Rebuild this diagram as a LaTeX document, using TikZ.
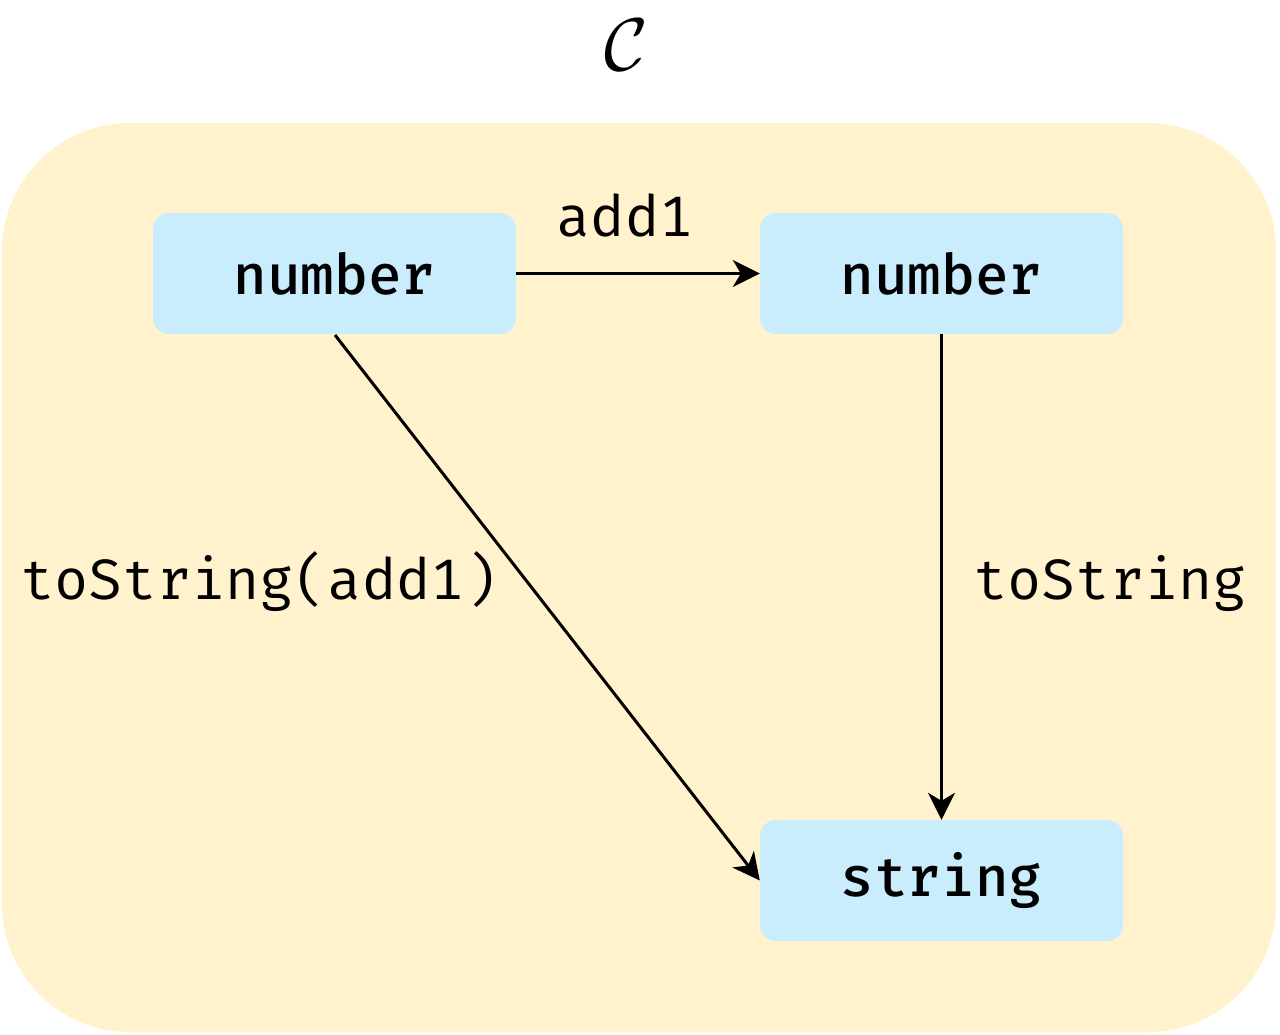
\documentclass[tikz,border=0pt]{standalone}
\usepackage{fontspec}
\setmonofont{Fira Mono}
\usetikzlibrary{arrows.meta}
\definecolor{bgyellow}{HTML}{FFF2CC}
\definecolor{boxblue}{HTML}{C9EDFC}
\begin{document}
\begin{tikzpicture}[x=1pt,y=-1pt,
  typebox/.style={fill=boxblue, rounded corners=16pt, minimum width=363pt, minimum height=121pt, inner sep=0pt, font=\fontsize{56}{60}\selectfont\ttfamily\bfseries},
  lbl/.style={font=\fontsize{57}{60}\selectfont\ttfamily, inner sep=0pt},
  arr/.style={draw=black, line width=3pt, -{Stealth[length=27pt,width=27pt,inset=8pt]}}]
\useasboundingbox (0,0) rectangle (1280,1034);
\fill[bgyellow, rounded corners=128pt] (2,123) rectangle (1276,1032);
\node[scale=3, inner sep=0pt] (title) at (626,45) {\fontsize{24}{28}\selectfont$\mathcal{C}$};
\node[typebox] (n1) at (334.5,273.5) {number};
\node[typebox] (n2) at (941.5,273.5) {number};
\node[typebox] (s) at (941.5,880.5) {string};
\coordinate (d0) at (335,335);
\draw[arr] (n1.east) -- (n2.west);
\draw[arr] (n2.south) -- (s.north);
\draw[arr] (d0) -- (s.west);
\node[lbl, anchor=base] (l1) at (625,236) {add1};
\node[lbl, anchor=base west] (l2) at (973,599) {toString};
\node[lbl, anchor=base west] (l3) at (20,599) {toString(add1)};
\end{tikzpicture}
\end{document}
